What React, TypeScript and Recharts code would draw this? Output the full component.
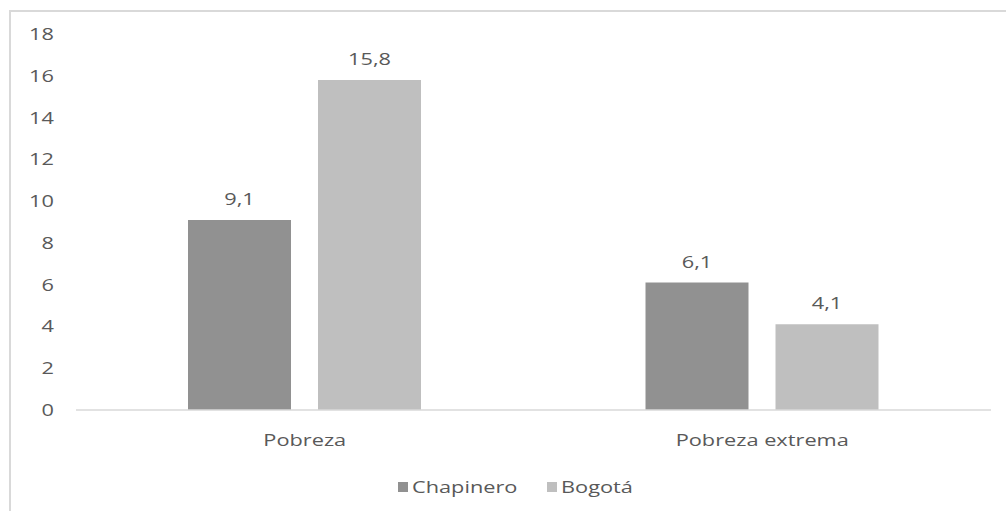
import { BarChart, Bar, XAxis, YAxis, LabelList } from "recharts";

const categories = ["Pobreza", "Pobreza extrema"];
const chapinero = [9.1, 6.1];
const bogota = [15.8, 4.1];
const yTicks = [0, 2, 4, 6, 8, 10, 12, 14, 16, 18];

const SERIES = [
  { key: "Chapinero", color: "#919191" },
  { key: "Bogotá", color: "#bfbfbf" },
];

const data = categories.map((name, i) => ({
  name,
  Chapinero: chapinero[i],
  Bogotá: bogota[i],
}));

const FONT = "'Open Sans', 'DejaVu Sans', sans-serif";
const TEXT = "#595959";
const SIZE = 17;
const STRETCH = 1.28; // the reference text is wide, stretch it horizontally

const fmt = (v: any) => String(v).replace(".", ",");

// text stretched around its anchor point
const Wide = ({ x, y, anchor, children }: any) => (
  <text
    transform={`translate(${x},${y}) scale(${STRETCH},1)`}
    textAnchor={anchor}
    fill={TEXT}
    fontSize={SIZE}
    fontFamily={FONT}
  >
    {children}
  </text>
);

const XTick = ({ x, y, payload }: any) => (
  <Wide x={x} y={y + 36} anchor="middle">{payload.value}</Wide>
);

const YTick = ({ x, y, payload }: any) => (
  <Wide x={x} y={y + 6} anchor="end">{payload.value}</Wide>
);

const BarLabel = ({ x, y, width, value }: any) => (
  <Wide x={x + width / 2} y={y - 15} anchor="middle">{fmt(value)}</Wide>
);

const LegendBox = () => (
  <svg width={1006} height={40} style={{ position: "absolute", left: 0, top: 470 }}>
    <rect x={398} y={12} width={10} height={10} fill={SERIES[0].color} />
    <Wide x={412} y={23} anchor="start">{SERIES[0].key}</Wide>
    <rect x={547} y={12} width={10} height={10} fill={SERIES[1].color} />
    <Wide x={561} y={23} anchor="start">{SERIES[1].key}</Wide>
  </svg>
);

export default function App() {
  return (
    <div style={{ position: "absolute", left: 0, top: 0, width: 1006, height: 511, background: "#fff", overflow: "hidden" }}>
      <div style={{ position: "absolute", left: 9, top: 10, width: 1100, height: 600, border: "2px solid #d9d9d9" }} />
      <BarChart
        width={1006}
        height={511}
        data={data}
        margin={{ top: 34, right: 15, left: 0, bottom: 71 }}
        barCategoryGap="24.5%"
        barGap={27}
        style={{ position: "absolute", left: 0, top: 0 }}
      >
        <XAxis
          dataKey="name"
          height={30}
          axisLine={{ stroke: "#d9d9d9", strokeWidth: 1.5 }}
          tickLine={false}
          tickSize={0}
          tickMargin={0}
          tick={<XTick />}
        />
        <YAxis
          domain={[0, 18]}
          ticks={yTicks}
          width={76}
          axisLine={false}
          tickLine={false}
          tickSize={0}
          tickMargin={22}
          tick={<YTick />}
        />
        {SERIES.map((s) => (
          <Bar key={s.key} dataKey={s.key} fill={s.color} barSize={103} isAnimationActive={false}>
            <LabelList dataKey={s.key} content={<BarLabel />} />
          </Bar>
        ))}
      </BarChart>
      <LegendBox />
    </div>
  );
}
